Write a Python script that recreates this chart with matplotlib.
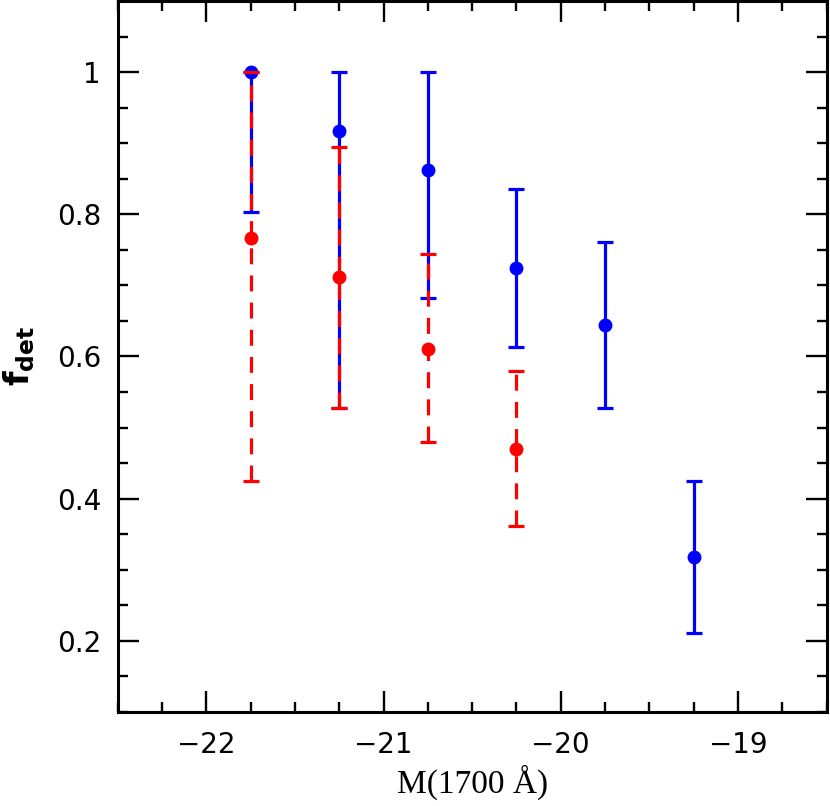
import numpy as np
import matplotlib
matplotlib.use("Agg")
import matplotlib.pyplot as plt
from matplotlib.ticker import MultipleLocator

# magnitude bins
mag_blue = [-21.75, -21.25, -20.75, -20.25, -19.75, -19.25]
mag_red = [-21.75, -21.25, -20.75, -20.25]

# detection fractions and bounds
f_blue = [1.0, 0.918, 0.862, 0.725, 0.644, 0.318]
f_blue_hi = [1.0, 1.0, 1.0, 0.835, 0.761, 0.424]
f_blue_lo = [0.803, 0.528, 0.682, 0.614, 0.527, 0.211]

f_red = [0.767, 0.712, 0.611, 0.470]
f_red_hi = [1.0, 0.895, 0.744, 0.580]
f_red_lo = [0.424, 0.528, 0.479, 0.362]

blue_err = [np.array(f_blue) - np.array(f_blue_lo), np.array(f_blue_hi) - np.array(f_blue)]
red_err = [np.array(f_red) - np.array(f_red_lo), np.array(f_red_hi) - np.array(f_red)]

fig = plt.figure(figsize=(8.3, 8.06), dpi=100)
ax = fig.add_axes([0.1418, 0.117, 0.854, 0.8815])

ax.errorbar(mag_blue, f_blue, yerr=blue_err, fmt="o", color="#0000ff", ms=9,
            elinewidth=2.3, capsize=6, capthick=2.3, zorder=2)
eb = ax.errorbar(mag_red, f_red, yerr=red_err, fmt="o", color="#ff0000", ms=9,
                 elinewidth=2.3, capsize=6, capthick=2.3, zorder=3)
eb[2][0].set_linestyle((0, (5, 3.5)))

ax.set_xlim(-22.5, -18.5)
ax.set_ylim(0.1, 1.1)
ax.xaxis.set_major_locator(MultipleLocator(1))
ax.xaxis.set_minor_locator(MultipleLocator(0.25))
ax.yaxis.set_major_locator(MultipleLocator(0.2))
ax.yaxis.set_minor_locator(MultipleLocator(0.05))
ax.set_yticks([0.2, 0.4, 0.6, 0.8, 1.0])
ax.set_yticklabels(["0.2", "0.4", "0.6", "0.8", "1"])
ax.set_xticks([-22, -21, -20, -19])
ax.set_xticklabels(["\u221222", "\u221221", "\u221220", "\u221219"])

ax.tick_params(which="both", direction="in", top=True, right=True, width=1.7,
               labelsize=20)
ax.tick_params(which="major", length=15)
ax.tick_params(which="minor", length=7.5)
ax.tick_params(axis="x", pad=14)
ax.tick_params(axis="y", pad=12)
for s in ax.spines.values():
    s.set_linewidth(2.2)

ax.set_xlabel("M(1700 \u00c5)", fontsize=24, family="Liberation Serif", labelpad=4)
ax.set_ylabel(r"$\mathbf{f}_{\mathbf{det}}$", fontsize=24, labelpad=14)

fig.savefig("out.png", dpi=100)
